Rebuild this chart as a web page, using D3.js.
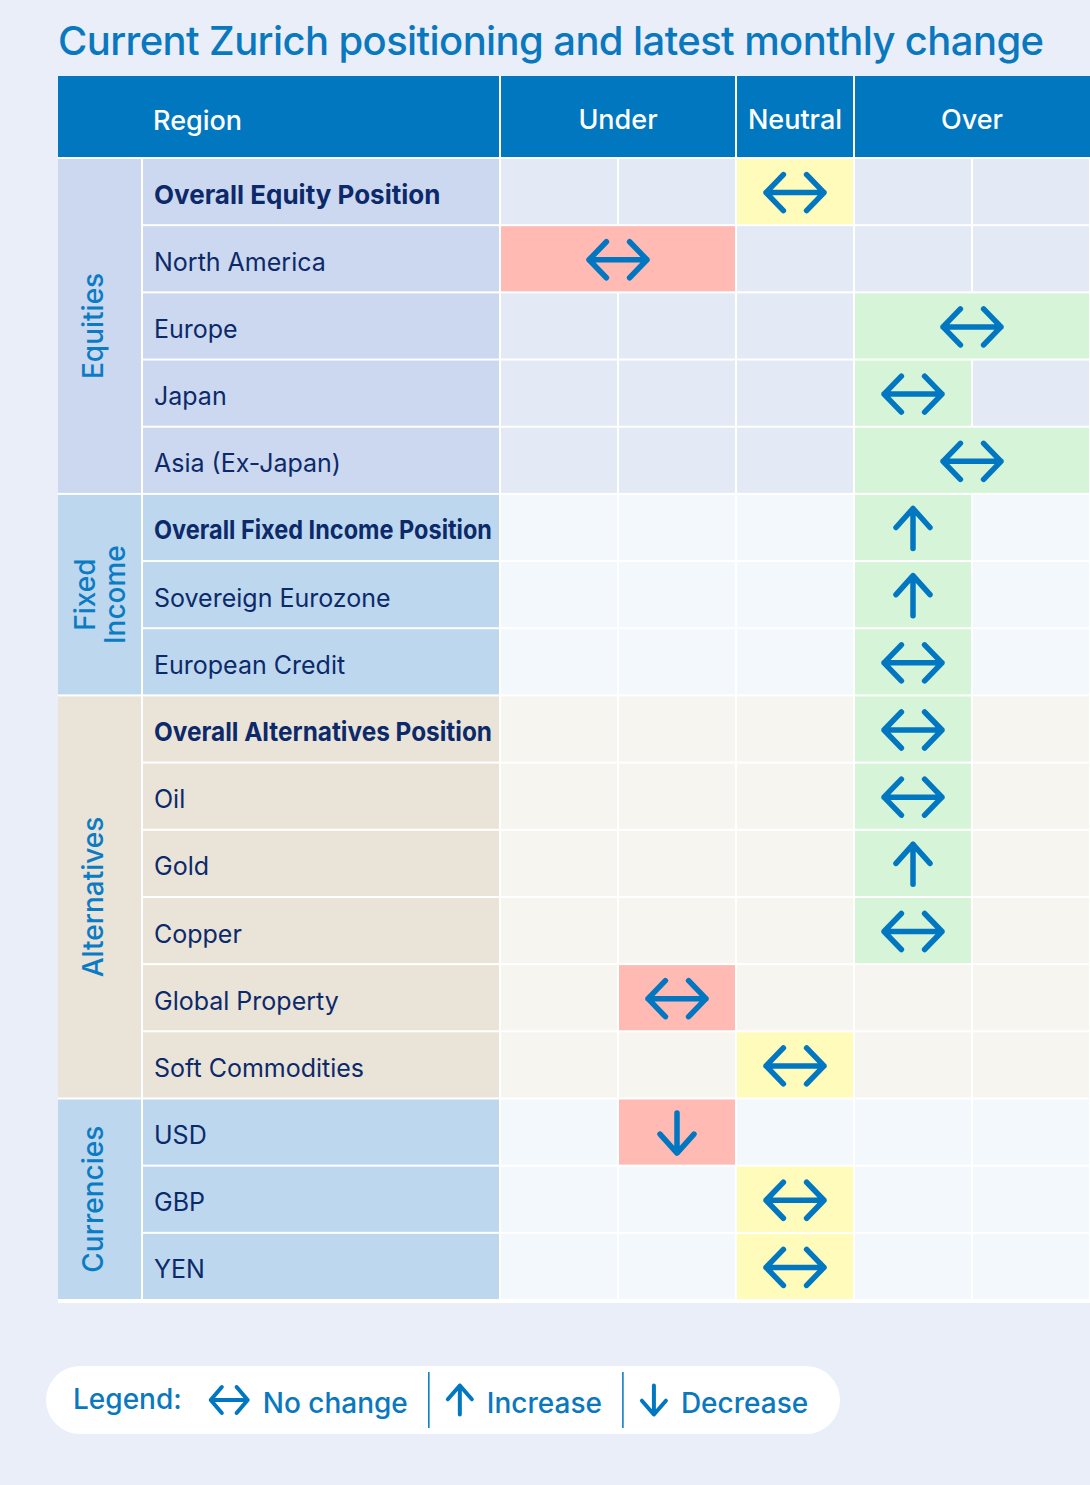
<!DOCTYPE html>
<meta charset="utf-8">
<style>
body { margin: 0; background: #e9eef8; }
svg { display: block; font-family: Inter, "Noto Sans", sans-serif; }
.title { fill: #0a78be; font-size: 40px; font-weight: 500; letter-spacing: -0.6px; }
.head text { fill: #fff; font-size: 27px; font-weight: 500; }
.region { fill: #0c2a6a; font-size: 25px; }
.region.overall { font-size: 26px; font-weight: 700; }
.group { fill: #0b7cc4; font-size: 28px; font-weight: 500; }
.arrow { fill: none; stroke: #0077c0; stroke-linecap: round; stroke-linejoin: round; }
.legend text { fill: #0a78be; font-size: 28px; font-weight: 500; }
</style>
<body>
<script src="https://cdn.jsdelivr.net/npm/d3@7"></script>
<script>

// data
var groupNames = ["Equities", "Fixed Income", "Alternatives", "Currencies"];

var rowNames = [
  "Overall Equity Position", "North America", "Europe", "Japan", "Asia (Ex-Japan)",
  "Overall Fixed Income Position", "Sovereign Eurozone", "European Credit",
  "Overall Alternatives Position", "Oil", "Gold", "Copper", "Global Property", "Soft Commodities",
  "USD", "GBP", "YEN"
];
var rowGroup = [0, 0, 0, 0, 0, 1, 1, 1, 2, 2, 2, 2, 2, 2, 3, 3, 3];
var rowOverall = [true, false, false, false, false, true, false, false, true, false, false, false, false, false, false, false, false];

// position span over the five sub-columns (0-1 under, 2 neutral, 3-4 over)
var positionFrom = [2, 0, 3, 3, 3, 3, 3, 3, 3, 3, 3, 3, 1, 2, 1, 2, 2];
var positionTo   = [2, 1, 4, 3, 4, 3, 3, 3, 3, 3, 3, 3, 1, 2, 1, 2, 2];
var monthlyChange = ["none", "none", "none", "none", "none", "up", "up", "none",
  "none", "none", "up", "none", "none", "none", "down", "none", "none"];

var stanceNames = ["Under", "Neutral", "Over"];
var stanceFrom = [0, 2, 3];
var stanceTo = [1, 2, 4];
var subColumns = [0, 1, 2, 3, 4];

var legendKeys = ["none", "up", "down"];
var legendLabels = ["No change", "Increase", "Decrease"];

// layout
var width = 1090, height = 1485;
var tableLeft = 58, groupRight = 142, regionRight = 500;
var headTop = 76, headBottom = 158, tableBottom = 1300;
var gap = 2;
var labelMax = 338;

var groupFill = ["#ccd8ef", "#bdd7ee", "#eae3d8", "#bdd7ee"];
var cellFill = ["#e3e9f5", "#f3f8fc", "#f7f5f0", "#f3f8fc"];
var stanceFill = ["#ffbab3", "#ffbab3", "#fffbba", "#d6f4d8", "#d6f4d8"];

var svg = d3.select("body").append("svg")
    .attr("width", width)
    .attr("height", height);

var x = d3.scaleBand().domain(subColumns).range([regionRight, width]);
var y = d3.scaleBand().domain(d3.range(rowNames.length)).range([headBottom, tableBottom]);

// arrow shapes, drawn around (0,0)
function arrowPath(kind, w, h) {
  var a = w * 0.6;
  if (kind === "none") {
    return "M" + (-w) + ",0H" + w +
      "M" + (-w + a) + "," + (-h) + "L" + (-w) + ",0L" + (-w + a) + "," + h +
      "M" + (w - a) + "," + (-h) + "L" + w + ",0L" + (w - a) + "," + h;
  }
  var s = kind === "up" ? -1 : 1;
  return "M0," + (-s * h) + "V" + (s * h) +
    "M" + (-w) + "," + (s * h * 0.05) + "L0," + (s * h) + "L" + w + "," + (s * h * 0.05);
}

svg.append("text")
    .attr("class", "title")
    .attr("x", tableLeft)
    .attr("y", 55)
    .text("Current Zurich positioning and latest monthly change");

// white backing shows through as the grid lines
svg.append("rect")
    .attr("x", tableLeft).attr("y", headTop)
    .attr("width", width - tableLeft).attr("height", tableBottom - headTop + 3)
    .attr("fill", "#fff");

// header
var head = svg.append("g").attr("class", "head");
head.append("rect")
    .attr("x", tableLeft).attr("y", headTop)
    .attr("width", regionRight - tableLeft - gap / 2).attr("height", headBottom - headTop - gap / 2)
    .attr("fill", "#0077bf");
head.append("text")
    .attr("x", 153).attr("y", (headTop + headBottom) / 2 + 13)
    .text("Region");

stanceNames.forEach(function(name, i) {
  var x0 = x(stanceFrom[i]), x1 = x(stanceTo[i]) + x.bandwidth();
  head.append("rect")
      .attr("x", x0 + gap / 2).attr("y", headTop)
      .attr("width", x1 - x0 - (x1 >= width ? gap / 2 : gap))
      .attr("height", headBottom - headTop - gap / 2)
      .attr("fill", "#0077bf");
  head.append("text")
      .attr("x", (x0 + x1) / 2).attr("y", (headTop + headBottom) / 2 + 12)
      .attr("text-anchor", "middle")
      .text(name);
});

// group column
var groups = groupNames.map(function(name, g) {
  var idx = d3.range(rowNames.length).filter(function(r) { return rowGroup[r] === g; });
  return { name: name, g: g, top: y(idx[0]), bottom: y(idx[idx.length - 1]) + y.bandwidth() };
});

groups.forEach(function(d) {
  svg.append("rect")
      .attr("x", tableLeft).attr("y", d.top + gap / 2)
      .attr("width", groupRight - tableLeft - gap / 2)
      .attr("height", d.bottom - d.top - gap)
      .attr("fill", groupFill[d.g]);

  var cy = (d.top + d.bottom) / 2;
  var words = d.name.split(" ");
  var wrap = words.length > 1 && d.bottom - d.top < 250;
  var cx = wrap ? 101 : 93;
  var t = svg.append("text")
      .attr("class", "group")
      .attr("text-anchor", "middle")
      .attr("transform", "translate(" + cx + "," + cy + ") rotate(-90)");
  if (wrap) {
    words.forEach(function(w, i) {
      t.append("tspan")
          .attr("x", 0)
          .attr("dy", i === 0 ? "-0.2em" : "1.05em")
          .text(w);
    });
  } else {
    t.attr("dy", "0.35em").text(d.name);
  }
});

// rows
var rows = svg.selectAll(".row")
    .data(rowNames)
    .enter().append("g")
    .attr("class", "row");

rows.each(function(name, r) {
  var g = d3.select(this), top = y(r), h = y.bandwidth();

  g.append("rect")
      .attr("x", groupRight + gap / 2).attr("y", top + gap / 2)
      .attr("width", regionRight - groupRight - gap).attr("height", h - gap)
      .attr("fill", groupFill[rowGroup[r]]);

  var label = g.append("text")
      .attr("class", "region" + (rowOverall[r] ? " overall" : ""))
      .attr("x", 154).attr("y", top + h / 2 + 12)
      .text(name);
  if (label.node().getComputedTextLength() > labelMax) {
    label.attr("textLength", labelMax).attr("lengthAdjust", "spacingAndGlyphs");
  }

  subColumns.forEach(function(c) {
    if (c >= positionFrom[r] && c <= positionTo[r]) return;
    g.append("rect")
        .attr("x", x(c) + gap / 2).attr("y", top + gap / 2)
        .attr("width", x.bandwidth() - gap).attr("height", h - gap)
        .attr("fill", cellFill[rowGroup[r]]);
  });

  var x0 = x(positionFrom[r]), x1 = x(positionTo[r]) + x.bandwidth();
  g.append("rect")
      .attr("x", x0 + gap / 2).attr("y", top + gap / 2)
      .attr("width", x1 - x0 - gap).attr("height", h - gap)
      .attr("fill", stanceFill[positionFrom[r]]);

  var kind = monthlyChange[r];
  g.append("path")
      .attr("class", "arrow")
      .attr("stroke-width", 5.5)
      .attr("transform", "translate(" + ((x0 + x1) / 2) + "," + (top + h / 2 + 1) + ")")
      .attr("d", kind === "none" ? arrowPath(kind, 29, 18) : arrowPath(kind, 17, 20));
});

// legend
var legend = svg.append("g").attr("class", "legend");
legend.append("rect")
    .attr("x", 46).attr("y", 1366)
    .attr("width", 794).attr("height", 68)
    .attr("rx", 34)
    .attr("fill", "#fff");

var lx = 73, ly = 1413;
var lab = legend.append("text").attr("x", lx).attr("y", ly - 4).text("Legend:");
lx += lab.node().getComputedTextLength() + 29;

legendKeys.forEach(function(k, i) {
  if (i > 0) {
    legend.append("line")
        .attr("x1", lx).attr("x2", lx)
        .attr("y1", 1372).attr("y2", 1428)
        .attr("stroke", "#0077c0").attr("stroke-width", 1.5);
    lx += 19;
  }
  var iw = k === "none" ? 18.5 : 12;
  legend.append("path")
      .attr("class", "arrow")
      .attr("stroke-width", 4)
      .attr("transform", "translate(" + (lx + iw) + "," + (ly - 13) + ")")
      .attr("d", k === "none" ? arrowPath(k, 18.5, 13) : arrowPath(k, 12, 14.5));
  lx += iw * 2 + 15;
  var t = legend.append("text").attr("x", lx).attr("y", ly).text(legendLabels[i]);
  lx += t.node().getComputedTextLength() + 21;
});

</script>
</body>
